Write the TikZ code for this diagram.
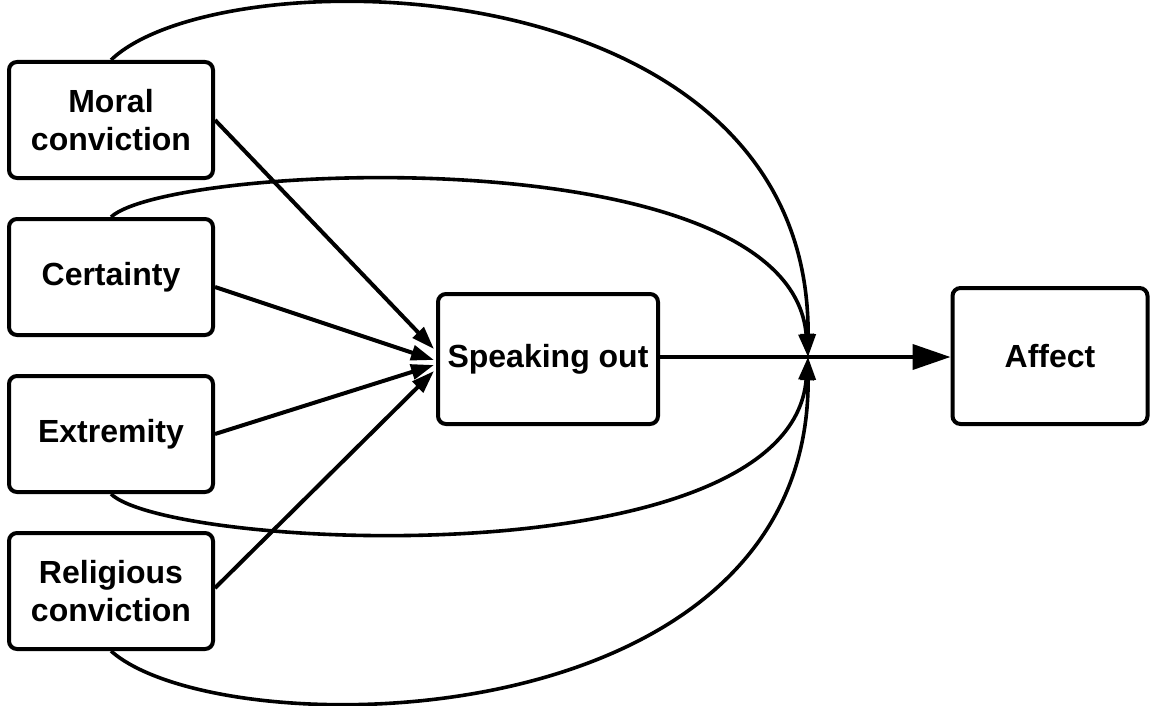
\documentclass[tikz,border=0pt]{standalone}
\usepackage{fontspec}
\setmainfont{Liberation Sans}
\usetikzlibrary{arrows.meta,calc}
\begin{document}
\begin{tikzpicture}[x=0.5pt,y=-0.5pt,
  box/.style={draw,line width=2pt,rounded corners=4pt,align=center,
    font=\fontsize{16}{19}\selectfont\bfseries,inner sep=0pt},
  src/.style={box,minimum width=102pt,minimum height=58pt},
  link/.style={line width=2pt,-{Triangle[length=11.5pt,width=7.5pt]}},
  curve/.style={line width=1.8pt,-{Triangle[length=11.5pt,width=7.5pt]}},
  main/.style={line width=2pt,-{Triangle[length=19pt,width=12.5pt]}}]
\useasboundingbox (0,0) rectangle (1150,706);

% predictors
\node[src] (moral) at (111,120) {Moral\\conviction};
\node[src] (cert)  at (111,277) {Certainty};
\node[src] (extr)  at (111,434) {Extremity};
\node[src] (relig) at (111,591) {Religious\\conviction};

% mediator and outcome
\node[box,minimum width=110pt,minimum height=65pt] (speak) at (548,359) {Speaking out};
\node[box,minimum width=97.5pt,minimum height=68pt] (affect) at (1050,356) {Affect};

\coordinate (j) at (808,357);

% direct paths into the mediator
\draw[link] ($(moral.east)+(0,0)$)  -- ($(speak.west)+(-2,-10)$);
\draw[link] ($(cert.east)+(0,10)$)  -- ($(speak.west)+(-2,1)$);
\draw[link] ($(extr.east)+(0,0)$)   -- ($(speak.west)+(-2,6)$);
\draw[link] ($(relig.east)+(0,-3)$) -- ($(speak.west)+(-2,12)$);

% mediator to outcome
\draw[main] (speak.east |- j) -- (affect.west |- j);

% direct paths to the outcome
\draw[curve] (moral.north) .. controls (220,-45) and (810,-40) .. (j);
\draw[curve] (cert.north)  .. controls (170,163) and (790,135) .. (j);
\draw[curve] (extr.south)  .. controls (170,550) and (790,580) .. (j);
\draw[curve] (relig.south) .. controls (220,748) and (810,744) .. (j);
\end{tikzpicture}
\end{document}
